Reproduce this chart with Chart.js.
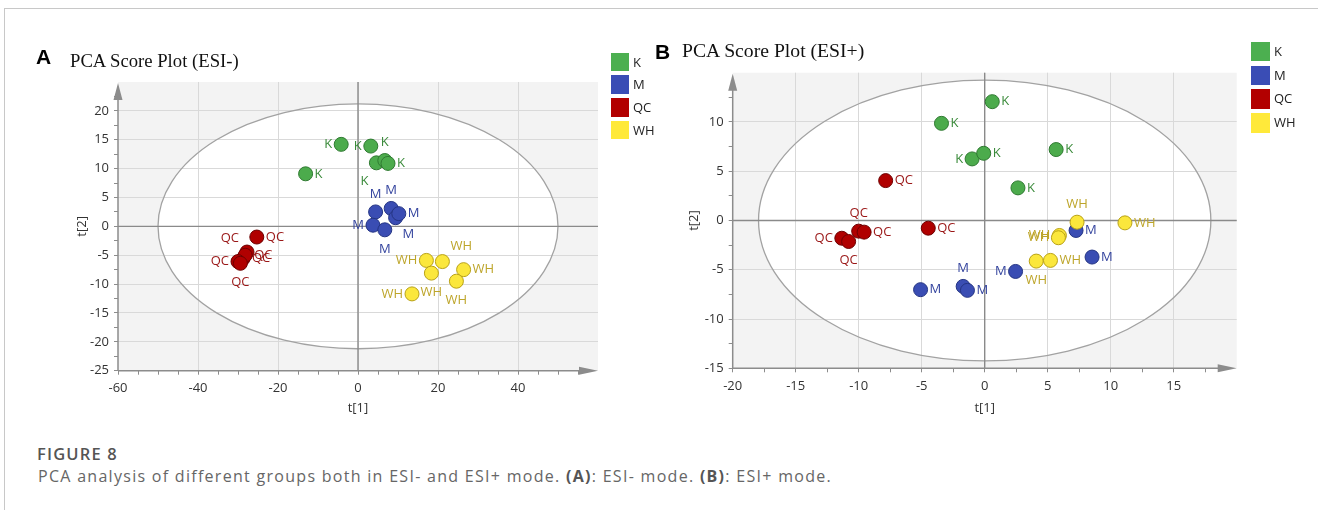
<!DOCTYPE html>
<html><head><meta charset="utf-8">
<script src="https://cdn.jsdelivr.net/npm/chart.js@4.4.1/dist/chart.umd.min.js"></script>
<style>
html,body{margin:0;padding:0;background:#fff;width:1318px;height:510px;overflow:hidden;position:relative;}
#frame{position:absolute;left:4px;top:8px;width:1400px;height:600px;border-top:1px solid #c8c8c8;border-left:1px solid #c8c8c8;}
canvas{position:absolute;top:0;}
#cA{left:0px;}
#cB{left:640px;}
.panel{position:absolute;font:bold 21px 'Liberation Sans',Arial,sans-serif;line-height:21px;color:#000;white-space:nowrap;}
.title{position:absolute;font-family:'Liberation Serif','Times New Roman',serif;color:#111;white-space:nowrap;}
.lg{position:absolute;font:13px 'Open Sans',sans-serif;color:#222;white-space:nowrap;}
.sw{position:absolute;}
#fig{position:absolute;left:37px;top:445.5px;font:600 16.5px 'Open Sans',sans-serif;line-height:16.5px;color:#555;white-space:nowrap;}
#cap{position:absolute;left:38px;top:467.5px;font:16px 'Open Sans',sans-serif;line-height:16px;color:#666;white-space:nowrap;}
#cap b{color:#555;}
</style></head>
<body>
<div id="frame"></div>
<canvas id="cA" width="640" height="430"></canvas>
<canvas id="cB" width="678" height="430"></canvas>
<div class="panel" style="left:36px;top:46.2px;">A</div>
<div class="title" style="left:70px;top:52px;font-size:18.7px;line-height:18.7px;">PCA Score Plot (ESI-)</div>
<div class="panel" style="left:655px;top:40.5px;">B</div>
<div class="title" style="left:682px;top:41px;font-size:19.7px;line-height:19.7px;">PCA Score Plot (ESI+)</div>
<div id="legA"></div>
<div id="legB"></div>
<div id="fig">FIGURE 8</div>
<div id="cap">PCA analysis of different groups both in ESI- and ESI+ mode. <b>(A)</b>: ESI- mode. <b>(B)</b>: ESI+ mode.</div>
<script>
// ---------- DATA ----------
const groups = ['K', 'M', 'QC', 'WH'];

// Panel A : ESI-
const kA_x  = [-13.1, -4.2, 3.2, 4.6, 6.7, 7.5];
const kA_y  = [9.1, 14.2, 13.9, 11.0, 11.4, 10.9];
const mA_x  = [4.4, 8.3, 9.4, 10.2, 3.75, 6.7];
const mA_y  = [2.5, 3.1, 1.5, 2.2, 0.2, -0.6];
const qcA_x = [-25.3, -27.75, -28.75, -28.2, -30.0, -29.4];
const qcA_y = [-1.85, -4.45, -5.6, -5.0, -6.1, -6.4];
const whA_x = [17.1, 21.1, 18.35, 26.4, 24.6, 13.5];
const whA_y = [-5.9, -6.1, -8.1, -7.5, -9.5, -11.7];
const ellipseA = [50, 21.2];          // Hotelling T2 semi-axes (t[1], t[2])
const xRangeA = [-60, 60];
const yRangeA = [-25, 25];

// Panel B : ESI+
const kB_x  = [-3.43, -1.0, -0.08, 0.6, 5.67, 2.64];
const kB_y  = [9.86, 6.25, 6.82, 12.06, 7.2, 3.31];
const mB_x  = [-5.09, -1.71, -1.37, 2.45, 8.52, 7.25];
const mB_y  = [-7.02, -6.69, -7.09, -5.17, -3.71, -1.01];
const qcB_x = [-7.86, -4.48, -10.0, -9.57, -11.34, -10.8];
const qcB_y = [4.05, -0.78, -1.08, -1.18, -1.8, -2.13];
const whB_x = [7.33, 11.13, 5.93, 5.85, 4.09, 5.22];
const whB_y = [-0.17, -0.24, -1.52, -1.75, -4.12, -4.05];
const ellipseB = [17.95, 14.25];
const xRangeB = [-20, 20];
const yRangeB = [-15, 15];

// ---------- LABEL PLACEMENT (layout, not data) ----------
const sideA = {
  K:  ['r', 'l', 'l', 'bl', 't', 'r'],
  M:  ['t', 't', 'br', 'r', 'l', 'b'],
  QC: ['r', 'tl', 'r', 'r', 'l', 'b'],
  WH: ['l', 'tr', 'b', 'r', 'b', 'l']
};
const sideB = {
  K:  ['r', 'l', 'r', 'r', 'r', 'r'],
  M:  ['r', 't', 'r', 'l', 'r', 'r'],
  QC: ['r', 'r', 't', 'r', 'l', 'b'],
  WH: ['t', 'r', 'l', 'l', 'b', 'r']
};

// ---------- STYLES ----------
const fillCol   = {K: '#4cab4c', M: '#3a4db3', QC: '#b00000', WH: '#fbe73c'};
const borderCol = {K: '#2f7a31', M: '#253584', QC: '#6e0000', WH: '#b9a216'};
const labelCol  = {K: '#3a8a3a', M: '#34449e', QC: '#9a1717', WH: '#bda52a'};
const legendCol = {K: '#4caf50', M: '#3a4db5', QC: '#b20000', WH: '#ffe93a'};
const drawOrder = {K: 3, M: 2, QC: 1, WH: 0};

const SIDES = {
  r:  {align: 'left',   dx: 9,  dy: 0},
  l:  {align: 'right',  dx: -9, dy: 0},
  t:  {align: 'center', dx: 0,  dy: -18},
  b:  {align: 'center', dx: 0,  dy: 19},
  tl: {align: 'right',  dx: -8, dy: -14},
  tr: {align: 'left',   dx: 8,  dy: -15},
  br: {align: 'left',   dx: 7,  dy: 17},
  bl: {align: 'right',  dx: -8, dy: 18}
};

function makeDatasets(xs, ys, sides) {
  return groups.map((g, gi) => ({
    label: g,
    data: xs[gi].map((v, i) => ({x: v, y: ys[gi][i]})),
    backgroundColor: fillCol[g],
    borderColor: borderCol[g],
    borderWidth: 1,
    pointRadius: 7,
    pointHoverRadius: 7,
    order: drawOrder[g],
    labelSide: sides[g],
    labelColor: labelCol[g]
  }));
}

const pcaPlugin = {
  id: 'pca',
  beforeDraw(chart, args, o) {
    const {ctx, chartArea: a, scales: {x, y}} = chart;
    ctx.save();
    ctx.fillStyle = '#f3f3f3';
    ctx.fillRect(a.left, a.top, a.right - a.left, a.bottom - a.top);
    const cx = x.getPixelForValue(0), cy = y.getPixelForValue(0);
    const rx = Math.abs(x.getPixelForValue(o.ellipse[0]) - cx);
    const ry = Math.abs(y.getPixelForValue(o.ellipse[1]) - cy);
    ctx.beginPath();
    ctx.ellipse(cx, cy, rx, ry, 0, 0, Math.PI * 2);
    ctx.fillStyle = '#ffffff';
    ctx.fill();
    ctx.restore();
  },
  beforeDatasetsDraw(chart, args, o) {
    const {ctx, chartArea: a, scales: {x, y}} = chart;
    const cx = x.getPixelForValue(0), cy = y.getPixelForValue(0);
    const rx = Math.abs(x.getPixelForValue(o.ellipse[0]) - cx);
    const ry = Math.abs(y.getPixelForValue(o.ellipse[1]) - cy);
    ctx.save();
    ctx.beginPath();
    ctx.ellipse(cx, cy, rx, ry, 0, 0, Math.PI * 2);
    ctx.strokeStyle = '#a2a2a2';
    ctx.lineWidth = 1.3;
    ctx.stroke();
    // zero lines
    ctx.strokeStyle = '#8a8a8a';
    ctx.lineWidth = 1.4;
    ctx.beginPath();
    ctx.moveTo(cx, a.top); ctx.lineTo(cx, a.bottom);
    ctx.moveTo(a.left, cy); ctx.lineTo(a.right, cy);
    ctx.stroke();
    // axes with arrows
    ctx.strokeStyle = '#8c8c8c';
    ctx.lineWidth = 1.5;
    ctx.beginPath();
    ctx.moveTo(a.left, a.bottom); ctx.lineTo(a.left, a.top + 10);
    ctx.moveTo(a.left, a.bottom); ctx.lineTo(a.right - 10, a.bottom);
    ctx.stroke();
    ctx.fillStyle = '#8c8c8c';
    ctx.beginPath();
    ctx.moveTo(a.left, a.top + 1);
    ctx.lineTo(a.left - 4.5, a.top + 18);
    ctx.lineTo(a.left + 4.5, a.top + 18);
    ctx.closePath(); ctx.fill();
    ctx.beginPath();
    ctx.moveTo(a.right, a.bottom);
    ctx.lineTo(a.right - 19, a.bottom - 4);
    ctx.lineTo(a.right - 19, a.bottom + 4);
    ctx.closePath(); ctx.fill();
    ctx.restore();
  },
  afterDatasetsDraw(chart, args, o) {
    const ctx = chart.ctx;
    ctx.save();
    ctx.font = '13px "Open Sans", sans-serif';
    ctx.textBaseline = 'middle';
    chart.data.datasets.forEach((ds, di) => {
      const meta = chart.getDatasetMeta(di);
      ctx.fillStyle = ds.labelColor;
      meta.data.forEach((pt, i) => {
        const s = SIDES[ds.labelSide[i]];
        ctx.textAlign = s.align;
        ctx.fillText(ds.label, pt.x + s.dx, pt.y + s.dy);
      });
    });
    // axis titles
    const a = chart.chartArea;
    ctx.fillStyle = '#333';
    ctx.textAlign = 'center';
    ctx.fillText('t[1]', (a.left + a.right) / 2, a.bottom + o.xTitleGap);
    ctx.translate(a.left - o.yTitleGap, (a.top + a.bottom) / 2);
    ctx.rotate(-Math.PI / 2);
    ctx.fillText('t[2]', 0, 0);
    ctx.restore();
  }
};

function makeChart(id, datasets, xr, yr, xStep, yStep, xMajor, yMajor, pad, yW, ell, gaps) {
  const isMajor = (v, m, max) => Math.abs(v / m - Math.round(v / m)) < 1e-6 && v < max - 1e-6;
  const tickFont = {family: "'Open Sans', sans-serif", size: 13};
  return new Chart(document.getElementById(id), {
    type: 'scatter',
    data: {datasets},
    options: {
      responsive: false, animation: false, events: [],
      layout: {padding: pad},
      plugins: {legend: {display: false}, tooltip: {enabled: false},
        pca: {ellipse: ell, xTitleGap: gaps[0], yTitleGap: gaps[1]}},
      scales: {
        x: {
          type: 'linear', min: xr[0], max: xr[1],
          afterFit: s => { s.height = 40; },
          border: {display: false},
          grid: {
            color: c => (c.tick && isMajor(c.tick.value, xMajor, xr[1]) && c.tick.value > xr[0]) ? '#d9d9d9' : 'rgba(0,0,0,0)',
            tickColor: c => (c.tick && c.tick.value < xr[1] - 1e-6) ? '#8c8c8c' : 'rgba(0,0,0,0)',
            tickLength: 4, lineWidth: 1
          },
          ticks: {
            stepSize: xStep, autoSkip: false, maxRotation: 0, padding: 6,
            color: '#333', font: tickFont,
            callback: v => isMajor(v, xMajor, xr[1]) ? String(v) : ''
          }
        },
        y: {
          type: 'linear', min: yr[0], max: yr[1],
          afterFit: s => { s.width = yW; },
          border: {display: false},
          grid: {
            color: c => (c.tick && isMajor(c.tick.value, yMajor, yr[1]) && c.tick.value > yr[0]) ? '#d9d9d9' : 'rgba(0,0,0,0)',
            tickColor: c => (c.tick && c.tick.value < yr[1] - 1e-6) ? '#8c8c8c' : 'rgba(0,0,0,0)',
            tickLength: 4, lineWidth: 1
          },
          ticks: {
            stepSize: yStep, autoSkip: false, padding: 5,
            color: '#333', font: tickFont,
            callback: v => isMajor(v, yMajor, yr[1]) ? String(v) : ''
          }
        }
      }
    },
    plugins: [pcaPlugin]
  });
}

makeChart('cA',
  makeDatasets([kA_x, mA_x, qcA_x, whA_x], [kA_y, mA_y, qcA_y, whA_y], sideA),
  xRangeA, yRangeA, 5, 2.5, 20, 5,
  {left: 58, right: 42, top: 82, bottom: 19.3}, 60, ellipseA, [37.5, 36]);

makeChart('cB',
  makeDatasets([kB_x, mB_x, qcB_x, whB_x], [kB_y, mB_y, qcB_y, whB_y], sideB),
  xRangeB, yRangeB, 2.5, 2.5, 5, 5,
  {left: 42.7, right: 81.3, top: 72.7, bottom: 21.7}, 50, ellipseB, [39.5, 38]);

// ---------- LEGENDS ----------
function legend(elId, left, top, pitch, size, textLeft) {
  const el = document.getElementById(elId);
  groups.forEach((g, i) => {
    const sq = document.createElement('div');
    sq.className = 'sw';
    sq.style.cssText = `left:${left}px;top:${top + i * pitch}px;width:${size}px;height:${size}px;background:${legendCol[g]};`;
    el.appendChild(sq);
    const t = document.createElement('div');
    t.className = 'lg';
    t.textContent = g;
    t.style.cssText = `left:${textLeft}px;top:${top + i * pitch}px;height:${size}px;line-height:${size}px;`;
    el.appendChild(t);
  });
}
legend('legA', 610.7, 52.7, 22.7, 18.6, 633);
legend('legB', 1250.7, 41.7, 23.8, 19.6, 1274);

// fit caption widths to the reference widths
function fit(id, target) {
  const el = document.getElementById(id);
  const n = el.textContent.length;
  el.style.letterSpacing = '0px';
  const w = el.getBoundingClientRect().width;
  el.style.letterSpacing = ((target - w) / n) + 'px';
}
function fitAll() { fit('fig', 81); fit('cap', 794); }
fitAll();
if (document.fonts && document.fonts.ready) document.fonts.ready.then(fitAll);
</script>
</body></html>
